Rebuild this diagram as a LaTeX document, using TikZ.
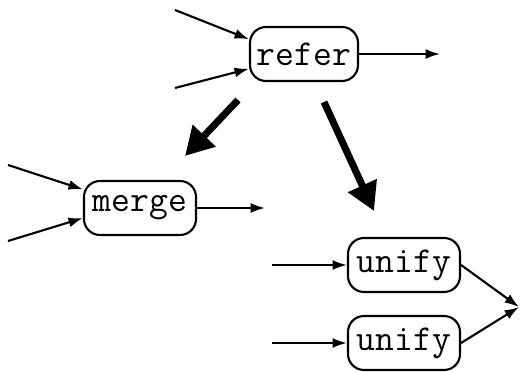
\documentclass[tikz,border=0pt]{standalone}
\usepackage{tikz}
\usetikzlibrary{arrows,arrows.meta,shapes,positioning}

\tikzset{
  op/.style={draw,rounded corners=0.4cm,line width=1.5pt,minimum height=1.35cm,
    minimum width=2.8cm,inner xsep=0.15cm,font=\fontsize{26}{30}\selectfont\ttfamily},
  flow/.style={line width=1.5pt,-{Latex[length=0.36cm,width=0.25cm]}},
  big/.style={line width=5pt,-{Triangle[length=0.7cm,width=0.75cm]}}
}

\begin{document}
\begin{tikzpicture}[x=0.025cm,y=-0.025cm]
            \useasboundingbox (0,0) rectangle (520,372);
            \node[op,minimum width=2.7cm] (refer) at (304,54) {refer};
            \node[op] (merge) at (140,208) {merge};
            \node[op] (unifyA) at (404,265) {unify};
            \node[op] (unifyB) at (404,343) {unify};
            \coordinate (rin1) at (175,10);
            \coordinate (rin2) at (175,88);
            \coordinate (rout) at (440,54);
            \coordinate (min1) at (8,165);
            \coordinate (min2) at (8,241);
            \coordinate (mout) at (265,208);
            \coordinate (uin1) at (272,265);
            \coordinate (uin2) at (272,343);
            \coordinate (uout) at (519,307);
            \draw[flow] (rin1) -- (refer.165);
            \draw[flow] (rin2) -- (refer.195);
            \draw[flow] (refer.east) -- (rout);
            \draw[flow] (min1) -- (merge.162);
            \draw[flow] (min2) -- (merge.190);
            \draw[flow] (merge.east) -- (mout);
            \draw[flow] (uin1) -- (unifyA.west);
            \draw[flow] (uin2) -- (unifyB.west);
            \draw[flow] (unifyA.east) -- (uout);
            \draw[flow] (unifyB.east) -- (uout);
            % thick arrows
            \coordinate (t1) at (238,100);
            \coordinate (t2) at (185,156);
            \coordinate (t3) at (324,102);
            \coordinate (t4) at (374,211);
            \draw[big] (t1) -- (t2);
            \draw[big] (t3) -- (t4);
        \end{tikzpicture}
\end{document}
